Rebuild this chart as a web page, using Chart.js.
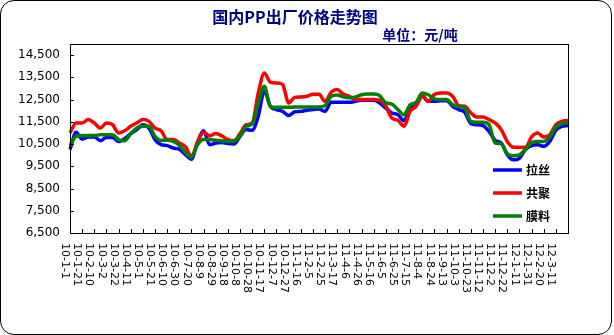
<!DOCTYPE html>
<html>
<head>
<meta charset="utf-8">
<script src="https://cdn.jsdelivr.net/npm/chart.js@4"></script>
<style>
    body { margin: 0; background: #fff; }
    #wrap { position: absolute; left: 0; top: 0; width: 614px; height: 335px; }
    #frame {
        position: absolute; left: 0; top: 0; width: 612px; height: 335px;
        border: 1px solid #000; border-radius: 14px; box-sizing: border-box;
        pointer-events: none;
    }
</style>
</head>
<body>
<div id="wrap"><canvas id="ppChart"></canvas></div>
<div id="frame"></div>
<script>
// 10-day steps, a tick label on every other one
const categories = [
    '10-1-1', '10-1-11', '10-1-21', '10-1-31', '10-2-10', '10-2-20', '10-3-2', '10-3-12', '10-3-22', '10-4-1',
    '10-4-11', '10-4-21', '10-5-1', '10-5-11', '10-5-21', '10-5-31', '10-6-10', '10-6-20', '10-6-30', '10-7-10',
    '10-7-20', '10-7-30', '10-8-9', '10-8-19', '10-8-29', '10-9-8', '10-9-18', '10-9-28', '10-10-8', '10-10-18',
    '10-10-28', '10-11-7', '10-11-17', '10-11-27', '10-12-7', '10-12-17', '10-12-27', '11-1-6', '11-1-16', '11-1-26',
    '11-2-5', '11-2-15', '11-2-25', '11-3-7', '11-3-17', '11-3-27', '11-4-6', '11-4-16', '11-4-26', '11-5-6',
    '11-5-16', '11-5-26', '11-6-5', '11-6-15', '11-6-25', '11-7-5', '11-7-15', '11-7-25', '11-8-4', '11-8-14',
    '11-8-24', '11-9-3', '11-9-13', '11-9-23', '11-10-3', '11-10-13', '11-10-23', '11-11-2', '11-11-12', '11-11-22',
    '11-12-2', '11-12-12', '11-12-22', '12-1-1', '12-1-11', '12-1-21', '12-1-31', '12-2-10', '12-2-20', '12-3-1',
    '12-3-11', '12-3-21', '12-3-31'
];

const seriesNames = ['拉丝', '共聚', '膜料'];

const lasi = [
    10250, 11030, 10720, 10820, 10820, 10650, 10800, 10800, 10620, 10740,
    10970, 11150, 11370, 11220, 10700, 10470, 10430, 10320, 10270, 10020,
    9820, 10600, 11100, 10470, 10550, 10570, 10520, 10500, 10850, 11150,
    11120, 11750, 12880, 12200, 12050, 11970, 11780, 11950, 11970, 12020,
    12050, 12080, 11970, 12380, 12380, 12380, 12380, 12420, 12470, 12470,
    12470, 12350, 12120, 11900, 11820, 11550, 12120, 12270, 12650, 12420,
    12420, 12450, 12450, 12200, 12050, 11930, 11420, 11370, 11330, 11070,
    10670, 10550, 10020, 9790, 9860, 10250, 10430, 10470, 10400, 10620,
    11120, 11300, 11330
];

const gongju = [
    11000, 11450, 11450, 11600, 11450, 11220, 11450, 11370, 11000, 11100,
    11300, 11450, 11600, 11520, 11220, 11100, 10700, 10700, 10550, 10380,
    9940, 10580, 11030, 10870, 10970, 10870, 10700, 10650, 10970, 11370,
    11450, 12800, 13700, 13280, 13250, 13180, 12350, 12600, 12620, 12650,
    12740, 12740, 12420, 12830, 12950, 12750, 12650, 12500, 12500, 12500,
    12500, 12470, 12200, 11670, 11570, 11300, 11970, 12200, 12680, 12420,
    12730, 12800, 12800, 12650, 12230, 12200, 11900, 11720, 11720, 11600,
    11450, 11150, 10620, 10360, 10360, 10360, 10820, 11000, 10820, 10920,
    11370, 11520, 11570
];

const moliao = [
    10420, 10850, 10880, 10880, 10880, 10920, 10920, 10920, 10700, 10650,
    10970, 11220, 11300, 11300, 10850, 10670, 10670, 10620, 10450, 10120,
    9910, 10470, 10700, 10700, 10670, 10650, 10620, 10650, 10880, 11300,
    11400, 12350, 13100, 12170, 12150, 12150, 12150, 12170, 12170, 12170,
    12170, 12170, 12230, 12650, 12710, 12620, 12580, 12620, 12720, 12750,
    12750, 12680, 12350, 12300, 12050, 11820, 12270, 12380, 12800, 12720,
    12530, 12500, 12500, 12270, 12200, 12120, 11520, 11480, 11480, 11370,
    10550, 10520, 10060, 9970, 10010, 10280, 10570, 10620, 10620, 10820,
    11270, 11420, 11450
];

const yTicks = [6500, 7500, 8500, 9500, 10500, 11500, 12500, 13500, 14500];

const colors = ['#0000ff', '#ff0000', '#008000'];
const navy = '#000080';

// title, plot frame, inward ticks, rotated x labels and the in-plot legend
const decorations = {
    id: 'decorations',
    afterDraw(chart) {
        const ctx = chart.ctx;
        const area = chart.chartArea;
        const x = chart.scales.x;
        const y = chart.scales.y;
        ctx.save();

        ctx.fillStyle = navy;
        ctx.textAlign = 'center';
        ctx.textBaseline = 'middle';
        ctx.font = "bold 16px 'Noto Sans CJK SC'";
        ctx.fillText('国内PP出厂价格走势图', 295, 17);
        ctx.font = "bold 14px 'Noto Sans CJK SC'";
        ctx.fillText('单位：元/吨', 420, 35);

        ctx.strokeStyle = '#000';
        ctx.lineWidth = 1;
        ctx.strokeRect(area.left + 0.5, area.top + 0.5, area.right - area.left, area.bottom - area.top);

        ctx.beginPath();
        yTicks.forEach(v => {
            const py = Math.round(y.getPixelForValue(v)) + 0.5;
            ctx.moveTo(area.left, py);
            ctx.lineTo(area.left + 4, py);
        });
        for (let i = 0; i < categories.length; i += 2) {
            const px = Math.round(x.getPixelForValue(i)) + 0.5;
            ctx.moveTo(px, area.bottom);
            ctx.lineTo(px, area.bottom - 4);
        }
        ctx.stroke();

        ctx.fillStyle = '#000';
        ctx.font = "11px 'DejaVu Sans'";
        ctx.textAlign = 'left';
        ctx.textBaseline = 'middle';
        for (let i = 0; i < categories.length - 1; i += 2) {
            ctx.save();
            ctx.translate(x.getPixelForValue(i) - 5, area.bottom + 10);
            ctx.rotate(Math.PI / 2);
            ctx.fillText(categories[i], 0, 0);
            ctx.restore();
        }

        ctx.font = "bold 12px 'Noto Sans CJK SC'";
        chart.data.datasets.forEach((ds, i) => {
            const ly = 170 + i * 23;
            ctx.strokeStyle = ds.borderColor;
            ctx.lineWidth = 3.5;
            ctx.beginPath();
            ctx.moveTo(493, ly);
            ctx.lineTo(522, ly);
            ctx.stroke();
            ctx.fillStyle = '#000';
            ctx.fillText(ds.label, 526, ly);
        });

        ctx.restore();
    }
};

new Chart(document.getElementById('ppChart'), {
    type: 'line',
    data: {
        labels: categories,
        datasets: [
            { label: seriesNames[0], data: lasi, borderColor: colors[0], order: 3 },
            { label: seriesNames[1], data: gongju, borderColor: colors[1], order: 2 },
            { label: seriesNames[2], data: moliao, borderColor: colors[2], order: 1 }
        ].map(ds => Object.assign(ds, {
            borderWidth: 3.5,
            pointRadius: 0,
            fill: false,
            cubicInterpolationMode: 'monotone'
        }))
    },
    options: {
        responsive: true,
        maintainAspectRatio: false,
        animation: false,
        layout: { padding: { top: 44, right: 46, left: 0, bottom: 0 } },
        scales: {
            x: {
                offset: false,
                grid: { display: false, drawTicks: false },
                border: { display: false },
                ticks: { display: false },
                afterFit: scale => { scale.height = 102; }
            },
            y: {
                min: 6500,
                max: 15000,
                grid: { display: false, drawTicks: false },
                border: { display: false },
                afterBuildTicks: scale => { scale.ticks = yTicks.map(v => ({ value: v })); },
                afterFit: scale => { scale.width = 70; },
                ticks: {
                    padding: 10,
                    color: '#000',
                    font: { family: "'DejaVu Sans'", size: 12 },
                    callback: value => value.toLocaleString('en-US')
                }
            }
        },
        plugins: {
            legend: { display: false },
            tooltip: { enabled: false }
        }
    },
    plugins: [decorations]
});
</script>
</body>
</html>
